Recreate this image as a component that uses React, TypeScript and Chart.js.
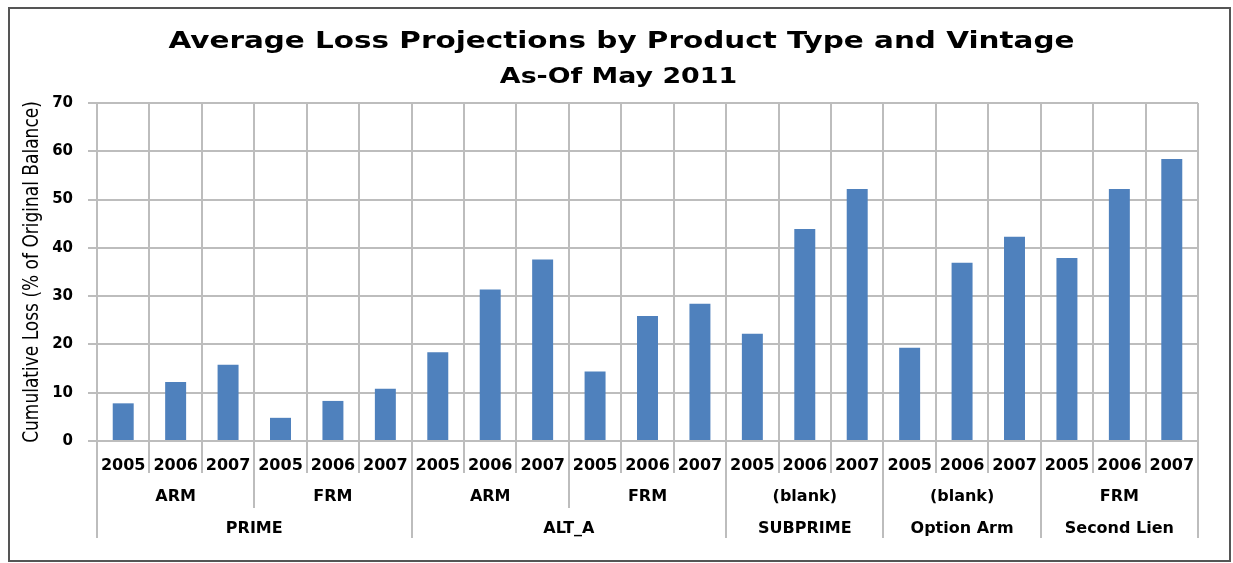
import React, { useEffect, useRef } from 'react';
import { Chart, registerables } from 'chart.js';

Chart.register(...registerables);

const vintages = ['2005', '2006', '2007'];
const productTypes = ['ARM', 'FRM', 'ARM', 'FRM', '(blank)', '(blank)', 'FRM'];
const productGroups = ['PRIME', 'PRIME', 'ALT_A', 'ALT_A', 'SUBPRIME', 'Option Arm', 'Second Lien'];
const lossValues = [
  7.8, 12.2, 15.8,
  4.8, 8.3, 10.8,
  18.4, 31.4, 37.6,
  14.4, 25.9, 28.4,
  22.2, 43.9, 52.2,
  19.3, 36.9, 42.3,
  37.9, 52.2, 58.4,
];
const yMin = 0;
const yMax = 70;
const yStep = 10;

const titleText = 'Average Loss Projections by Product Type and Vintage';
const subtitleText = 'As-Of May 2011';
const yTitleText = 'Cumulative Loss (% of Original Balance)';

const categoryLabels = productTypes.flatMap(() => vintages);

const GRID = '#bdbdbd';
const BAR = '#4f81bd';
const FONT = "'DejaVu Sans', sans-serif";

const drawStretched = (
  ctx: CanvasRenderingContext2D,
  text: string,
  x: number,
  y: number,
  font: string,
  sx: number,
) => {
  ctx.save();
  ctx.font = font;
  ctx.translate(x, y);
  ctx.scale(sx, 1);
  ctx.fillText(text, 0, 0);
  ctx.restore();
};

const titlesPlugin = {
  id: 'titlesPlugin',
  afterDraw(chart: any) {
    const { ctx, width, chartArea } = chart;
    ctx.save();
    ctx.fillStyle = '#000';
    ctx.textAlign = 'center';
    ctx.textBaseline = 'alphabetic';
    drawStretched(ctx, titleText, width / 2 + 2, 39, `bold 23px ${FONT}`, 1.28);
    drawStretched(ctx, subtitleText, width / 2 - 1, 74, `bold 22px ${FONT}`, 1.22);
    // rotated y-axis title
    ctx.save();
    ctx.translate(28, (chartArea.top + chartArea.bottom) / 2);
    ctx.rotate(-Math.PI / 2);
    ctx.scale(0.81, 1);
    ctx.font = `21px ${FONT}`;
    ctx.fillText(yTitleText, 0, 0);
    ctx.restore();
    ctx.restore();
  },
};

const multiLevelAxis = {
  id: 'multiLevelAxis',
  afterDraw(chart: any) {
    const { ctx, chartArea, scales } = chart;
    const x = scales.x;
    const n = categoryLabels.length;
    const per = vintages.length;
    const step = x.getPixelForValue(1) - x.getPixelForValue(0);
    const edge = (i: number) => x.getPixelForValue(i) - step / 2;
    const bottom = chartArea.bottom;
    ctx.save();
    ctx.strokeStyle = GRID;
    ctx.lineWidth = 2;
    for (let i = 0; i <= n; i++) {
      let depth = 32;
      if (i % per === 0) {
        const t = i / per;
        const isGroupEdge =
          t === 0 || t === productTypes.length || productGroups[t] !== productGroups[t - 1];
        depth = isGroupEdge ? 97 : 67;
      }
      const px = Math.round(edge(i));
      ctx.beginPath();
      ctx.moveTo(px, bottom);
      ctx.lineTo(px, bottom + depth);
      ctx.stroke();
    }
    ctx.fillStyle = '#000';
    ctx.textAlign = 'center';
    ctx.textBaseline = 'middle';
    ctx.font = `bold 16px ${FONT}`;
    productTypes.forEach((t, k) => {
      const cx = (edge(k * per) + edge((k + 1) * per)) / 2;
      ctx.fillText(t, cx, bottom + 56);
    });
    let start = 0;
    for (let k = 1; k <= productGroups.length; k++) {
      if (k === productGroups.length || productGroups[k] !== productGroups[start]) {
        const cx = (edge(start * per) + edge(k * per)) / 2;
        ctx.fillText(productGroups[start], cx, bottom + 88);
        start = k;
      }
    }
    ctx.restore();
  },
};

export default function App() {
  const canvasRef = useRef<HTMLCanvasElement | null>(null);

  useEffect(() => {
    if (!canvasRef.current) return;
    const chart = new Chart(canvasRef.current, {
      type: 'bar',
      data: {
        labels: categoryLabels,
        datasets: [
          {
            data: lossValues,
            backgroundColor: BAR,
            borderWidth: 0,
            barPercentage: 0.4,
            categoryPercentage: 1,
          },
        ],
      },
      options: {
        animation: false,
        responsive: false,
        maintainAspectRatio: false,
        layout: { padding: { left: 0, right: 31, top: 94, bottom: 0 } },
        plugins: {
          legend: { display: false },
          tooltip: { enabled: false },
          title: { display: false },
        },
        scales: {
          x: {
            type: 'category',
            offset: true,
            grid: {
              display: true,
              offset: true,
              color: GRID,
              lineWidth: 2,
              drawTicks: false,
            },
            border: { display: true, color: GRID, width: 2 },
            ticks: {
              color: '#000',
              font: { family: FONT, size: 16, weight: 'bold' },
              padding: 15,
              maxRotation: 0,
              autoSkip: false,
            },
            afterFit(scale: any) {
              scale.height = 119;
            },
          },
          y: {
            min: yMin,
            max: yMax,
            grid: { color: GRID, lineWidth: 2, tickLength: 9, drawTicks: true },
            border: { display: true, color: GRID, width: 2 },
            ticks: {
              stepSize: yStep,
              color: '#000',
              font: { family: FONT, size: 15, weight: 'bold' },
              padding: 15,
            },
            title: { display: false },
            afterFit(scale: any) {
              scale.width = 87;
            },
          },
        },
      },
      plugins: [multiLevelAxis, titlesPlugin],
    });
    return () => chart.destroy();
  }, []);

  return (
    <div
      style={{
        position: 'absolute',
        left: 8,
        top: 7,
        width: 1223,
        height: 555,
        boxSizing: 'border-box',
        border: '2px solid #555',
        background: '#fff',
      }}
    >
      <canvas ref={canvasRef} width={1219} height={551} style={{ display: 'block' }} />
    </div>
  );
}
